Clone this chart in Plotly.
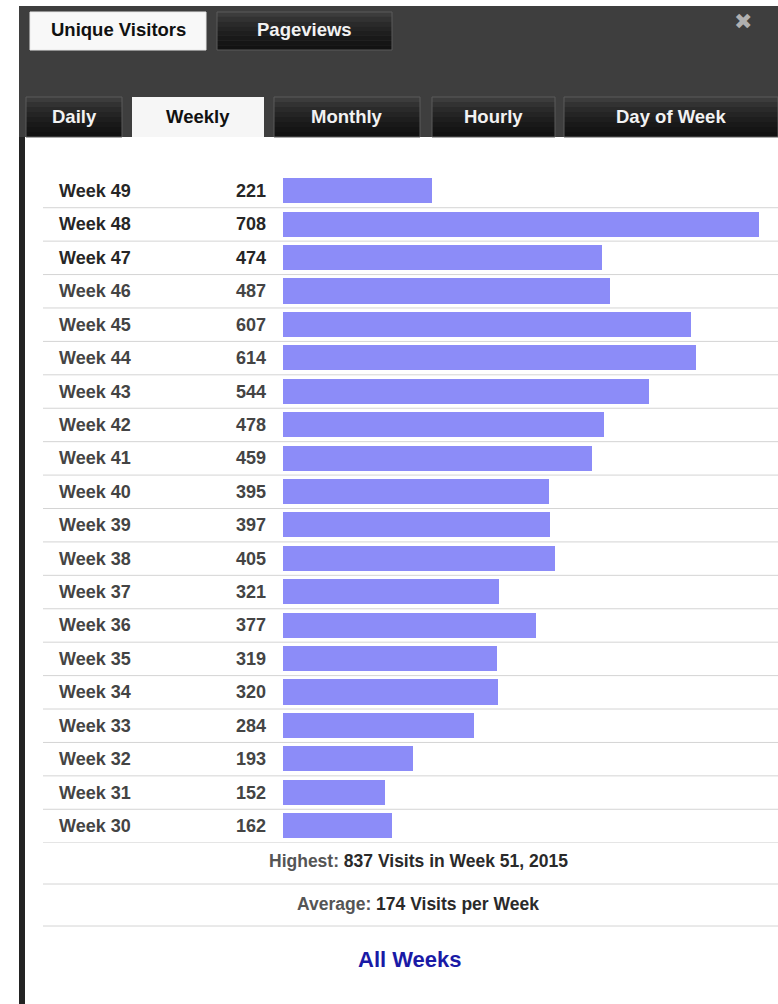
import plotly.graph_objects as go

# ---- data ----
weeks = ["Week 49", "Week 48", "Week 47", "Week 46", "Week 45", "Week 44", "Week 43",
         "Week 42", "Week 41", "Week 40", "Week 39", "Week 38", "Week 37", "Week 36",
         "Week 35", "Week 34", "Week 33", "Week 32", "Week 31", "Week 30"]
visitors = [221, 708, 474, 487, 607, 614, 544, 478, 459, 395, 397, 405, 321, 377,
            319, 320, 284, 193, 152, 162]
top_tabs = ["Unique Visitors", "Pageviews"]
sub_tabs = ["Daily", "Weekly", "Monthly", "Hourly", "Day of Week"]
highest_value = 837
highest_week = "Week 51, 2015"
average_value = 174

W, H = 778, 1004
FONT = "Liberation Sans"


def px(x):
    return x / W


def py(y):
    return 1 - y / H


fig = go.Figure()
fig.add_trace(go.Bar(
    x=visitors, y=weeks, orientation="h",
    marker=dict(color="#8c8cf8", line=dict(width=0)),
    width=0.75, hoverinfo="x+y",
))

shapes = []
annotations = []


def label(x, y, text, size, color, xref="paper", yref="paper", xanchor="center", family=FONT):
    annotations.append(dict(xref=xref, yref=yref, x=x, y=y, text=text, showarrow=False,
                            xanchor=xanchor, yanchor="middle",
                            font=dict(family=family, size=size, weight="bold", color=color)))


def dark_tab(a, b, top, bottom):
    # simple vertical gradient made of bands
    cols = ["#3c3c3c", "#323232", "#2a2a2a", "#242424", "#1e1e1e", "#191919", "#151515", "#121212"]
    n = len(cols)
    h = (bottom - top) / n
    for k, c in enumerate(cols):
        shapes.append(dict(type="rect", xref="paper", yref="paper", x0=px(a), x1=px(b),
                           y0=py(top + (k + 1) * h), y1=py(top + k * h),
                           fillcolor=c, line=dict(width=0), layer="below"))
    shapes.append(dict(type="rect", xref="paper", yref="paper", x0=px(a), x1=px(b),
                       y0=py(bottom), y1=py(top), fillcolor="rgba(0,0,0,0)",
                       line=dict(color="#5a5a5a", width=1), layer="below"))


# header background and left stripe
shapes.append(dict(type="rect", xref="paper", yref="paper", x0=px(19), x1=1.0,
                   y0=py(137), y1=py(6), fillcolor="#3e3e3e", line=dict(width=0), layer="below"))
shapes.append(dict(type="rect", xref="paper", yref="paper", x0=px(19), x1=px(25),
                   y0=0, y1=py(137), fillcolor="#232323", line=dict(width=0), layer="below"))

# top tabs
top_boxes = [(30, 206), (217, 392)]
for i, (name, (a, b)) in enumerate(zip(top_tabs, top_boxes)):
    active = i == 0
    if active:
        shapes.append(dict(type="rect", xref="paper", yref="paper", x0=px(a), x1=px(b),
                           y0=py(50), y1=py(12), fillcolor="#f8f8f8",
                           line=dict(color="#e8e8e8", width=1), layer="below"))
    else:
        dark_tab(a, b, 12, 50)
    label(px((a + b) / 2), py(30), name, 18.5, "#111111" if active else "#f2f2f2")
label(px(743), py(22), "✖", 22, "#b0b0b0", family="DejaVu Sans")

# sub tabs
sub_boxes = [(26, 122), (132, 264), (274, 420), (432, 555), (564, 778)]
for name, (a, b) in zip(sub_tabs, sub_boxes):
    active = name == "Weekly"
    if active:
        shapes.append(dict(type="rect", xref="paper", yref="paper", x0=px(a), x1=px(b),
                           y0=py(137), y1=py(97), fillcolor="#f6f6f6",
                           line=dict(width=0), layer="below"))
    else:
        dark_tab(a, b, 97, 137)
    label(px((a + b) / 2), py(116), name, 18.5, "#111111" if active else "#f2f2f2")

# row labels, values and separators
for i, (wk, v) in enumerate(zip(weeks, visitors)):
    col = "#262626" if i < 3 else "#444444"
    label(px(57), wk, wk, 18, col, yref="y", xanchor="left")
    label(px(268), wk, str(v), 18, col, yref="y", xanchor="right")
    shapes.append(dict(type="line", xref="paper", yref="y", x0=px(43), x1=1.0,
                       y0=i + 0.5, y1=i + 0.5, line=dict(color="#d4d4d4", width=1)))

# footer
label(px(418), py(861),
      f"<span style='color:#555555'>Highest:</span> {highest_value} Visits in {highest_week}",
      17.5, "#2a2a2a")
shapes.append(dict(type="line", xref="paper", yref="paper", x0=px(43), x1=1.0,
                   y0=py(884), y1=py(884), line=dict(color="#d4d4d4", width=1)))
label(px(418), py(904),
      f"<span style='color:#555555'>Average:</span> {average_value} Visits per Week",
      17.5, "#2a2a2a")
shapes.append(dict(type="line", xref="paper", yref="paper", x0=px(43), x1=1.0,
                   y0=py(926), y1=py(926), line=dict(color="#d4d4d4", width=1)))
label(px(410), py(959), "All Weeks", 22, "#1a1aa6")

row_top, row_bot = 174.3, 842.7
fig.update_layout(
    width=W, height=H,
    margin=dict(l=0, r=0, t=0, b=0),
    paper_bgcolor="white", plot_bgcolor="rgba(0,0,0,0)",
    showlegend=False,
    xaxis=dict(domain=[px(283), 1.0], range=[0, 736.3], visible=False, fixedrange=True),
    yaxis=dict(domain=[py(row_bot), py(row_top)], type="category",
               categoryorder="array", categoryarray=weeks,
               range=[len(weeks) - 0.5, -0.5], visible=False, fixedrange=True),
    shapes=shapes, annotations=annotations,
    bargap=0,
)

fig.write_html("out.html", config={"displayModeBar": False},
               post_script="document.body.style.margin='0';document.body.style.overflow='hidden';")
